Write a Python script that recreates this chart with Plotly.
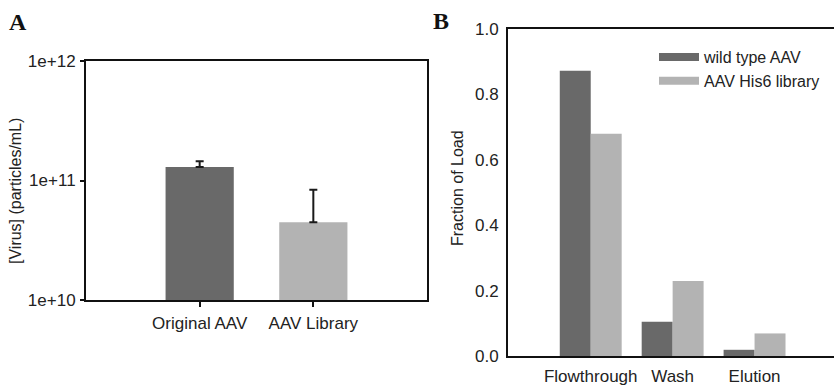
import plotly.graph_objects as go

# Panel A data
a_categories = ["Original AAV", "AAV Library"]
a_values = [1.30e11, 4.48e10]
a_err_plus = [0.15e11, 3.9e10]
a_tickvals = [1e10, 1e11, 1e12]
a_ticktext = ["1e+10", "1e+11", "1e+12"]

# Panel B data
b_categories = ["Flowthrough", "Wash", "Elution"]
b_wild_type = [0.872, 0.105, 0.019]
b_his6 = [0.680, 0.229, 0.069]
b_series_names = ["wild type AAV", "AAV His6 library"]

DARK = "#696969"
LIGHT = "#b3b3b3"
FONT = "Liberation Sans, Arial, sans-serif"
TXT = "#222222"
W, H = 834, 386

fig = go.Figure()

fig.add_trace(go.Bar(
    x=a_categories, y=a_values, width=0.6,
    marker=dict(color=[DARK, LIGHT], line=dict(width=0)),
    error_y=dict(type="data", symmetric=False, array=a_err_plus,
                 arrayminus=[0, 0], color="#1a1a1a", thickness=2, width=4),
    xaxis="x", yaxis="y", showlegend=False,
))

fig.add_trace(go.Bar(
    x=b_categories, y=b_wild_type, name=b_series_names[0],
    marker=dict(color=DARK, line=dict(width=0)),
    xaxis="x2", yaxis="y2", showlegend=False,
))
fig.add_trace(go.Bar(
    x=b_categories, y=b_his6, name=b_series_names[1],
    marker=dict(color=LIGHT, line=dict(width=0)),
    xaxis="x2", yaxis="y2", showlegend=False,
))
# legend samples (wide line swatches)
for nm, col in zip(b_series_names, [DARK, LIGHT]):
    fig.add_trace(go.Scatter(
        x=[None], y=[None], mode="lines", name=nm,
        line=dict(color=col, width=8),
        xaxis="x2", yaxis="y2", showlegend=True,
    ))

def px_x(p):
    return p / W

def px_y(p):
    return (H - p) / H

axis_line = dict(showline=True, linecolor="#111111", linewidth=2,
                 showgrid=False, zeroline=False, automargin=False)

fig.update_layout(
    width=W, height=H,
    margin=dict(l=0, r=0, t=0, b=0, pad=0, autoexpand=False),
    paper_bgcolor="white", plot_bgcolor="white",
    font=dict(family=FONT, size=16, color=TXT),
    barmode="group", bargap=0.244, bargroupgap=0,
    xaxis=dict(domain=[px_x(86), px_x(427)], anchor="y",
               range=[-1, 2], mirror=True, ticks="outside", ticklen=5,
               tickwidth=2, tickcolor="#111111", ticklabelstandoff=2,
               tickfont=dict(size=17), **axis_line),
    yaxis=dict(domain=[px_y(300), px_y(61)], anchor="x", type="log",
               range=[10, 12], tickvals=a_tickvals, ticktext=a_ticktext,
               mirror=True, ticks="outside", ticklen=4, tickwidth=2,
               tickcolor="#111111", ticklabelstandoff=1,
               tickfont=dict(size=17), **axis_line),
    xaxis2=dict(domain=[px_x(508), 1.0], anchor="y2",
                range=[-1.01, 2.97], mirror=True, ticks="",
                ticklabelstandoff=4, tickfont=dict(size=17), **axis_line),
    yaxis2=dict(domain=[px_y(356), px_y(29)], anchor="x2",
                range=[0, 1.0], dtick=0.2, tickformat=".1f",
                mirror=False, ticks="", ticklabelstandoff=4,
                tickfont=dict(size=17), **axis_line),
    legend=dict(x=px_x(654), y=px_y(40), xanchor="left", yanchor="top",
                bgcolor="rgba(0,0,0,0)", font=dict(size=16, color=TXT),
                tracegroupgap=0, itemwidth=40),
    annotations=[
        dict(text="<b>A</b>", x=px_x(18), y=px_y(22), xref="paper", yref="paper",
             xanchor="center", yanchor="middle", showarrow=False,
             font=dict(family="Liberation Serif, Times New Roman, serif", size=24, color="#111111")),
        dict(text="<b>B</b>", x=px_x(441), y=px_y(21), xref="paper", yref="paper",
             xanchor="center", yanchor="middle", showarrow=False,
             font=dict(family="Liberation Serif, Times New Roman, serif", size=24, color="#111111")),
        dict(text="[Virus] (particles/mL)", x=px_x(15), y=px_y(191),
             xref="paper", yref="paper", xanchor="center", yanchor="middle",
             showarrow=False, textangle=-90, font=dict(size=16, color=TXT)),
        dict(text="Fraction of Load", x=px_x(458), y=px_y(188),
             xref="paper", yref="paper", xanchor="center", yanchor="middle",
             showarrow=False, textangle=-90, font=dict(size=16, color=TXT)),
    ],
)

fig.write_html(
    "out.html",
    config={"displayModeBar": False},
    post_script="document.body.style.margin='0';"
                "document.documentElement.style.overflow='hidden';"
                "document.body.style.overflow='hidden';",
)
